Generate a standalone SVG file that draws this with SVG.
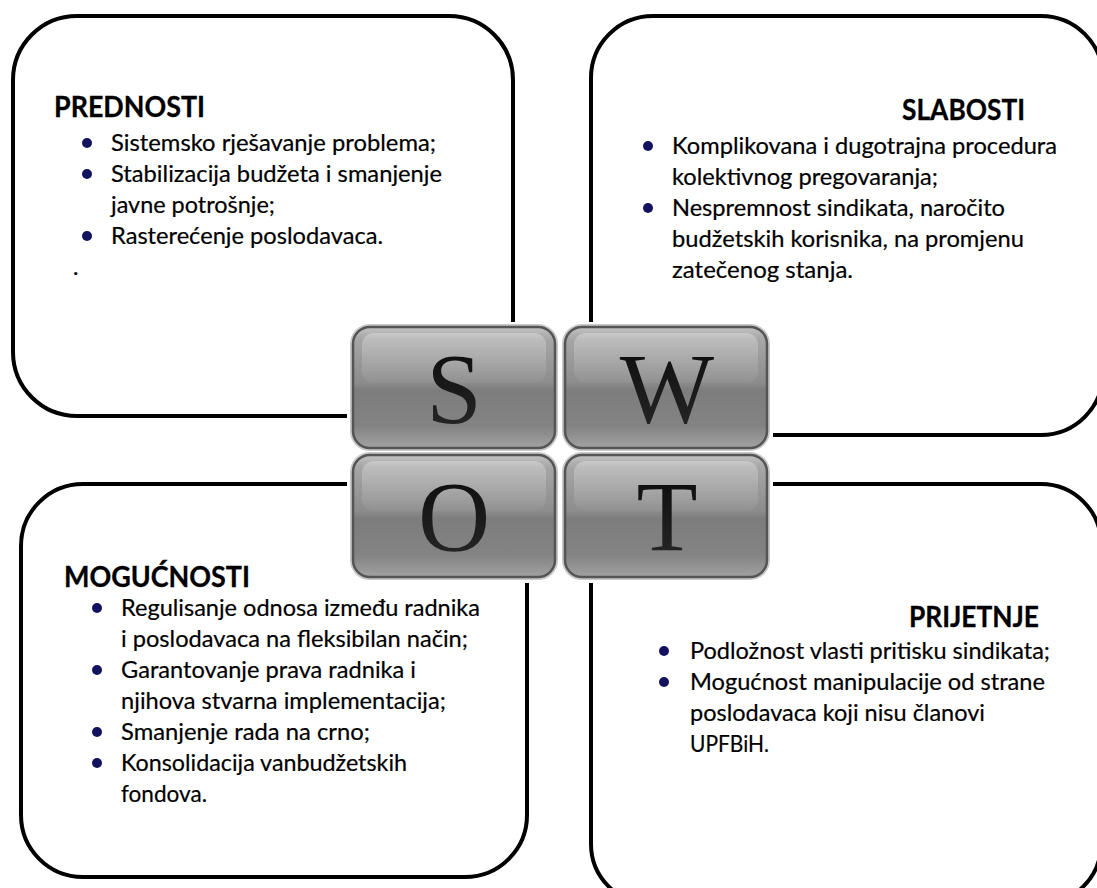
<svg xmlns="http://www.w3.org/2000/svg" width="1097" height="888" viewBox="0 0 1097 888">
<style>
.box{fill:none;stroke:#000;stroke-width:4}
.h{font-family:Lato,"Liberation Sans",sans-serif;font-weight:bold;font-size:28px;fill:#000;stroke:#000;stroke-width:0.3}
.t{font-family:Lato,"Liberation Sans",sans-serif;font-size:23px;fill:#000;stroke:#000;stroke-width:0.2}
.b{fill:#12125e}
.tile{fill:url(#tileG);stroke:#555;stroke-width:2.5}
.tileSh{fill:none;stroke:#c8c8c8;stroke-width:6}
.gloss{fill:url(#glossG)}
.L{font-family:"Liberation Serif","Times New Roman",serif;font-size:100px;fill:url(#letG);text-anchor:middle}
</style>
<defs>
<linearGradient id="tileG" x1="0" y1="0" x2="0" y2="1">
<stop offset="0" stop-color="#c2c2c2"/>
<stop offset="0.1" stop-color="#a6a6a6"/>
<stop offset="0.46" stop-color="#8c8c8c"/>
<stop offset="0.52" stop-color="#7d7d7d"/>
<stop offset="0.82" stop-color="#838383"/>
<stop offset="1" stop-color="#a2a2a2"/>
</linearGradient>
<linearGradient id="glossG" x1="0" y1="0" x2="0" y2="1">
<stop offset="0" stop-color="#fff" stop-opacity="0.28"/>
<stop offset="1" stop-color="#fff" stop-opacity="0.04"/>
</linearGradient>
<linearGradient id="letG" x1="0" y1="0" x2="0" y2="1">
<stop offset="0" stop-color="#0a0a0a"/>
<stop offset="1" stop-color="#2a2a2a"/>
</linearGradient>
</defs>
<rect width="1097" height="888" fill="#fff"/>

<g id="node-prednosti">
<rect class="box" x="13" y="16" width="500" height="400" rx="64"/>
<text class="h" x="54" y="117" textLength="151" lengthAdjust="spacingAndGlyphs">PREDNOSTI</text>
<circle class="b" cx="87" cy="143" r="5"/>
<circle class="b" cx="87" cy="174" r="5"/>
<circle class="b" cx="87" cy="236" r="5"/>
<text class="t" x="111" y="151" textLength="325" lengthAdjust="spacingAndGlyphs">Sistemsko rješavanje problema;</text>
<text class="t" x="111" y="182" textLength="331" lengthAdjust="spacingAndGlyphs">Stabilizacija budžeta i smanjenje</text>
<text class="t" x="111" y="213" textLength="164" lengthAdjust="spacingAndGlyphs">javne potrošnje;</text>
<text class="t" x="111" y="244" textLength="272" lengthAdjust="spacingAndGlyphs">Rasterećenje poslodavaca.</text>
<text class="t" x="73" y="275">.</text>
</g>

<g id="node-slabosti">
<rect class="box" x="591" y="16" width="512" height="419" rx="62"/>
<text class="h" x="902" y="120" textLength="123" lengthAdjust="spacingAndGlyphs">SLABOSTI</text>
<circle class="b" cx="648" cy="146" r="5"/>
<circle class="b" cx="648" cy="208" r="5"/>
<text class="t" x="672" y="154" textLength="385" lengthAdjust="spacingAndGlyphs">Komplikovana i dugotrajna procedura</text>
<text class="t" x="672" y="185" textLength="266" lengthAdjust="spacingAndGlyphs">kolektivnog pregovaranja;</text>
<text class="t" x="672" y="216" textLength="333" lengthAdjust="spacingAndGlyphs">Nespremnost sindikata, naročito</text>
<text class="t" x="672" y="247" textLength="352" lengthAdjust="spacingAndGlyphs">budžetskih korisnika, na promjenu</text>
<text class="t" x="672" y="278" textLength="181" lengthAdjust="spacingAndGlyphs">zatečenog stanja.</text>
</g>

<g id="node-mogucnosti">
<rect class="box" x="21" y="484" width="506" height="393" rx="62"/>
<text class="h" x="64" y="587" textLength="186" lengthAdjust="spacingAndGlyphs">MOGUĆNOSTI</text>
<circle class="b" cx="97" cy="608" r="5"/>
<circle class="b" cx="97" cy="670" r="5"/>
<circle class="b" cx="97" cy="732" r="5"/>
<circle class="b" cx="97" cy="763" r="5"/>
<text class="t" x="121" y="616" textLength="359" lengthAdjust="spacingAndGlyphs">Regulisanje odnosa između radnika</text>
<text class="t" x="121" y="647" textLength="347" lengthAdjust="spacingAndGlyphs">i poslodavaca na fleksibilan način;</text>
<text class="t" x="121" y="678" textLength="295" lengthAdjust="spacingAndGlyphs">Garantovanje prava radnika i</text>
<text class="t" x="121" y="709" textLength="325" lengthAdjust="spacingAndGlyphs">njihova stvarna implementacija;</text>
<text class="t" x="121" y="740" textLength="249" lengthAdjust="spacingAndGlyphs">Smanjenje rada na crno;</text>
<text class="t" x="121" y="771" textLength="286" lengthAdjust="spacingAndGlyphs">Konsolidacija vanbudžetskih</text>
<text class="t" x="121" y="802" textLength="86" lengthAdjust="spacingAndGlyphs">fondova.</text>
</g>

<g id="node-prijetnje">
<rect class="box" x="591" y="484" width="510" height="420" rx="60"/>
<text class="h" x="909" y="627" textLength="130" lengthAdjust="spacingAndGlyphs">PRIJETNJE</text>
<circle class="b" cx="664" cy="651" r="5"/>
<circle class="b" cx="664" cy="682" r="5"/>
<text class="t" x="690" y="659" textLength="360" lengthAdjust="spacingAndGlyphs">Podložnost vlasti pritisku sindikata;</text>
<text class="t" x="690" y="690" textLength="355" lengthAdjust="spacingAndGlyphs">Mogućnost manipulacije od strane</text>
<text class="t" x="690" y="721" textLength="295" lengthAdjust="spacingAndGlyphs">poslodavaca koji nisu članovi</text>
<text class="t" x="690" y="752" textLength="79" lengthAdjust="spacingAndGlyphs">UPFBiH.</text>
</g>

<g id="connectors"></g>

<g id="node-swot">
<rect x="347" y="322" width="426" height="261" fill="#fff"/>
<g id="tile-s">
<rect class="tileSh" x="353" y="327" width="202" height="121" rx="17"/>
<rect class="tile" x="353" y="327" width="202" height="121" rx="17"/>
<rect class="gloss" x="362" y="333" width="184" height="50" rx="12"/>
<text class="L" x="454" y="422">S</text>
</g>
<g id="tile-w">
<rect class="tileSh" x="565" y="327" width="202" height="121" rx="17"/>
<rect class="tile" x="565" y="327" width="202" height="121" rx="17"/>
<rect class="gloss" x="574" y="333" width="184" height="50" rx="12"/>
<text class="L" x="667" y="422">W</text>
</g>
<g id="tile-o">
<rect class="tileSh" x="353" y="455" width="202" height="122" rx="17"/>
<rect class="tile" x="353" y="455" width="202" height="122" rx="17"/>
<rect class="gloss" x="362" y="461" width="184" height="50" rx="12"/>
<text class="L" x="454" y="550">O</text>
</g>
<g id="tile-t">
<rect class="tileSh" x="565" y="455" width="202" height="122" rx="17"/>
<rect class="tile" x="565" y="455" width="202" height="122" rx="17"/>
<rect class="gloss" x="574" y="461" width="184" height="50" rx="12"/>
<text class="L" x="667" y="550">T</text>
</g>
</g>
</svg>
